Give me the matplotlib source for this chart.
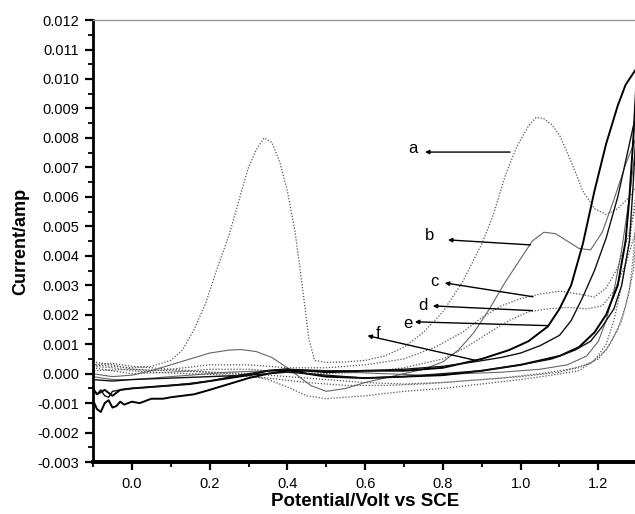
import numpy as np
from matplotlib import pyplot as plt
from matplotlib.ticker import MultipleLocator, FormatStrFormatter

plt.rcParams["font.family"] = ["Liberation Sans", "DejaVu Sans"]

# %%
# cyclic voltammograms, potential (V vs SCE) and current (mA), forward + reverse sweep
a_v = [-0.10, -0.05, 0.00, 0.05, 0.10, 0.13, 0.16, 0.19, 0.22, 0.25, 0.28, 0.30, 0.32, 0.34,
       0.36, 0.38, 0.40, 0.42, 0.44, 0.455, 0.47,
       0.50, 0.55, 0.60, 0.65, 0.70, 0.75, 0.80, 0.85, 0.90, 0.93, 0.96, 0.99, 1.02, 1.04, 1.06,
       1.08, 1.10, 1.13, 1.16, 1.19, 1.22, 1.25, 1.28, 1.30,
       1.28, 1.26, 1.24, 1.22, 1.19, 1.15, 1.08, 1.00, 0.90, 0.80, 0.70, 0.60, 0.50, 0.45, 0.40,
       0.35, 0.30, 0.20, 0.10, 0.00, -0.05, -0.10]
a_i = [0.30, 0.25, 0.20, 0.25, 0.45, 0.8, 1.5, 2.4, 3.6, 4.7, 6.1, 7.0, 7.6, 8.0,
       7.85, 7.2, 6.2, 4.8, 2.8, 1.2, 0.45,
       0.38, 0.40, 0.45, 0.60, 0.90, 1.4, 2.1, 3.1, 4.4, 5.4, 6.7, 7.7, 8.4, 8.7, 8.65,
       8.45, 8.1, 7.2, 6.2, 5.6, 5.4, 5.6, 6.0, 6.4,
       4.5, 3.0, 1.8, 1.0, 0.45, 0.1, -0.05, -0.2, -0.35, -0.5, -0.6, -0.75, -0.85, -0.75, -0.45,
       -0.2, -0.05, 0.05, 0.15, 0.25, 0.35, 0.30]

b_v = [-0.10, -0.05, 0.00, 0.05, 0.10, 0.15, 0.20, 0.25, 0.28, 0.32, 0.36, 0.40, 0.43, 0.46, 0.50,
       0.55, 0.60, 0.65, 0.70, 0.75, 0.80, 0.84, 0.88, 0.92, 0.96, 1.00, 1.03, 1.06, 1.09, 1.12,
       1.15, 1.18, 1.21, 1.24, 1.27, 1.30,
       1.28, 1.26, 1.24, 1.22, 1.20, 1.17, 1.12, 1.05, 0.95, 0.85, 0.75, 0.65, 0.55, 0.45, 0.35,
       0.25, 0.15, 0.05, 0.00, -0.05, -0.10]
b_i = [0.0, -0.1, -0.05, 0.1, 0.3, 0.5, 0.7, 0.8, 0.82, 0.75, 0.55, 0.2, -0.1, -0.4, -0.6,
       -0.5, -0.3, -0.15, 0.0, 0.15, 0.4, 0.8, 1.4, 2.2, 3.1, 3.9, 4.5, 4.8, 4.75, 4.5,
       4.25, 4.2, 4.8, 5.9, 7.1, 8.1,
       6.0, 4.2, 2.8, 1.8, 1.1, 0.6, 0.3, 0.15, 0.05, 0.0, -0.05, 0.0, 0.05, 0.1, 0.1,
       0.05, -0.05, -0.15, -0.2, -0.2, -0.1]

c_v = [-0.10, -0.05, 0.00, 0.05, 0.10, 0.20, 0.30, 0.40, 0.50, 0.60, 0.70, 0.78, 0.85, 0.90, 0.95,
       1.00, 1.05, 1.10, 1.15, 1.19, 1.22, 1.25, 1.28, 1.30,
       1.29, 1.28, 1.26, 1.23, 1.20, 1.15, 1.05, 0.95, 0.85, 0.75, 0.65, 0.55, 0.45, 0.35, 0.25,
       0.15, 0.05, 0.00, -0.05, -0.10]
c_i = [0.4, 0.3, 0.15, 0.1, 0.15, 0.3, 0.3, 0.2, 0.2, 0.3, 0.5, 0.9, 1.4, 1.9, 2.3,
       2.55, 2.7, 2.8, 2.7, 2.6, 2.9, 3.6, 4.8, 5.9,
       4.0, 2.8, 1.8, 1.0, 0.5, 0.2, 0.0, -0.15, -0.25, -0.35, -0.4, -0.4, -0.3, -0.15, -0.05,
       0.0, 0.05, 0.1, 0.2, 0.25]

d_v = [-0.10, -0.05, 0.00, 0.10, 0.20, 0.30, 0.40, 0.50, 0.60, 0.70, 0.80, 0.86, 0.92, 0.97, 1.02,
       1.07, 1.12, 1.17, 1.21, 1.24, 1.27, 1.30,
       1.29, 1.27, 1.25, 1.22, 1.18, 1.10, 1.00, 0.90, 0.80, 0.70, 0.60, 0.50, 0.40, 0.30, 0.20,
       0.10, 0.00, -0.10]
d_i = [0.2, 0.1, 0.0, 0.05, 0.15, 0.15, 0.05, 0.0, 0.05, 0.2, 0.5, 0.9, 1.4, 1.8, 2.1,
       2.2, 2.25, 2.2, 2.3, 2.8, 3.7, 5.0,
       3.5, 2.3, 1.5, 0.8, 0.35, 0.05, -0.1, -0.2, -0.3, -0.35, -0.3, -0.2, -0.1, 0.0, 0.05,
       0.1, 0.15, 0.1]

e_v = [-0.10, -0.09, -0.08, -0.07, -0.06, -0.05, -0.04, -0.03, -0.02, -0.01, 0.00, 0.02, 0.05,
       0.08, 0.10, 0.13, 0.16, 0.20, 0.25, 0.30, 0.35, 0.40, 0.45, 0.50, 0.60, 0.70, 0.80, 0.85,
       0.90, 0.97, 1.02, 1.07, 1.10, 1.13, 1.16, 1.19, 1.22, 1.25, 1.27, 1.30,
       1.29, 1.28, 1.27, 1.25, 1.22, 1.19, 1.15, 1.10, 1.00, 0.90, 0.80, 0.70, 0.60, 0.50, 0.45,
       0.40, 0.35, 0.30, 0.25, 0.20, 0.15, 0.10, 0.05, 0.00, -0.03, -0.05, -0.07, -0.09, -0.10]
e_i = [-0.9, -1.2, -1.3, -1.0, -0.9, -1.15, -1.1, -0.95, -1.05, -1.0, -0.95, -1.0, -0.85,
       -0.85, -0.8, -0.75, -0.7, -0.55, -0.35, -0.15, 0.0, 0.1, 0.1, 0.05, 0.1, 0.1, 0.2, 0.35,
       0.5, 0.8, 1.1, 1.6, 2.2, 3.0, 4.4, 6.2, 7.8, 9.1, 9.8, 10.4,
       8.0, 6.0, 4.5, 3.0, 2.0, 1.4, 0.9, 0.6, 0.3, 0.1, -0.05, -0.1, -0.15, -0.1, 0.0,
       0.15, 0.1, -0.05, -0.15, -0.25, -0.35, -0.4, -0.45, -0.5, -0.55, -0.75, -0.55, -0.7, -0.5]

f_v = [-0.10, -0.09, -0.08, -0.07, -0.06, -0.05, -0.03, 0.00, 0.05, 0.10, 0.15, 0.20, 0.25,
       0.30, 0.35, 0.40, 0.50, 0.60, 0.70, 0.80, 0.88, 0.95, 1.00, 1.05, 1.10, 1.13, 1.16, 1.19,
       1.22, 1.25, 1.28, 1.30,
       1.29, 1.28, 1.26, 1.24, 1.21, 1.18, 1.14, 1.08, 1.00, 0.90, 0.80, 0.70, 0.60, 0.50, 0.40,
       0.30, 0.20, 0.10, 0.00, -0.05, -0.10]
f_i = [-0.5, -0.7, -0.55, -0.75, -0.8, -0.6, -0.55, -0.5, -0.45, -0.4, -0.33, -0.25, -0.12,
       0.0, 0.1, 0.15, 0.1, 0.1, 0.15, 0.25, 0.4, 0.55, 0.7, 0.95, 1.3, 1.8, 2.6, 3.5,
       4.6, 6.0, 7.8, 9.0,
       6.5, 4.5, 3.0, 2.2, 1.6, 1.1, 0.8, 0.5, 0.3, 0.1, 0.0, -0.1, -0.15, -0.05, 0.05,
       -0.05, -0.1, -0.15, -0.2, -0.25, -0.2]

labels = ["a", "b", "c", "d", "e", "f"]

# %%
dotted = (0, (1, 1.4))
styles = {
    "a": dict(color="#555555", lw=0.9, ls=dotted),
    "b": dict(color="#666666", lw=0.8, ls="-"),
    "c": dict(color="#555555", lw=0.9, ls=dotted),
    "d": dict(color="#555555", lw=0.9, ls=dotted),
    "e": dict(color="black", lw=1.4, ls="-"),
    "f": dict(color="#111111", lw=1.0, ls="-"),
}
curves = {
    "a": (a_v, a_i),
    "b": (b_v, b_i),
    "c": (c_v, c_i),
    "d": (d_v, d_i),
    "e": (e_v, e_i),
    "f": (f_v, f_i),
}

fig = plt.figure(figsize=(6.35, 5.14), dpi=100)
ax = fig.add_axes([0.1465, 0.101, 0.857, 0.860])

for name in labels:
    v, i = curves[name]
    ax.plot(v, np.array(i) * 1e-3, **styles[name])

ax.set_xlim(-0.1, 1.3)
ax.set_ylim(-0.003, 0.012)

# label text position, arrow tail (on curve) and head (next to letter)
annot = {
    "a": ((0.723, 0.00763), (0.973, 0.00752), (0.754, 0.00752)),
    "b": ((0.766, 0.00468), (1.025, 0.00437), (0.813, 0.00454)),
    "c": ((0.779, 0.00312), (1.032, 0.00261), (0.805, 0.00308)),
    "d": ((0.748, 0.00230), (1.030, 0.00214), (0.774, 0.00230)),
    "e": ((0.710, 0.00170), (1.071, 0.00163), (0.728, 0.00176)),
    "f": ((0.632, 0.00136), (0.888, 0.00044), (0.606, 0.00129)),
}
for name in labels:
    txt, tail, head = annot[name]
    ax.text(txt[0], txt[1], name, fontsize=12, ha="center", va="center")
    ax.annotate("", xy=head, xytext=tail,
                arrowprops=dict(arrowstyle="-|>", color="black", lw=1.0,
                                mutation_scale=6, shrinkA=0, shrinkB=0))

ax.xaxis.set_major_locator(MultipleLocator(0.2))
ax.xaxis.set_minor_locator(MultipleLocator(0.1))
ax.yaxis.set_major_locator(MultipleLocator(0.001))
ax.yaxis.set_minor_locator(MultipleLocator(0.0005))
ax.xaxis.set_major_formatter(FormatStrFormatter("%.1f"))
ax.yaxis.set_major_formatter(FormatStrFormatter("%.3f"))
ax.tick_params(axis="both", which="major", direction="out", length=6, width=1.6,
               labelsize=10.5, pad=4)
ax.tick_params(axis="both", which="minor", direction="out", length=3.5, width=1.3)
ax.tick_params(axis="x", which="major", pad=5)

ax.spines["left"].set_linewidth(2.0)
ax.spines["bottom"].set_linewidth(2.8)
ax.spines["top"].set_color("#999999")
ax.spines["top"].set_linewidth(1.0)
ax.spines["right"].set_visible(False)

ax.set_xlabel("Potential/Volt vs SCE", fontsize=13.5, fontweight="bold", labelpad=1)
ax.set_ylabel("Current/amp", fontsize=13, fontweight="bold", labelpad=6)

fig.savefig("out.png", dpi=100)
